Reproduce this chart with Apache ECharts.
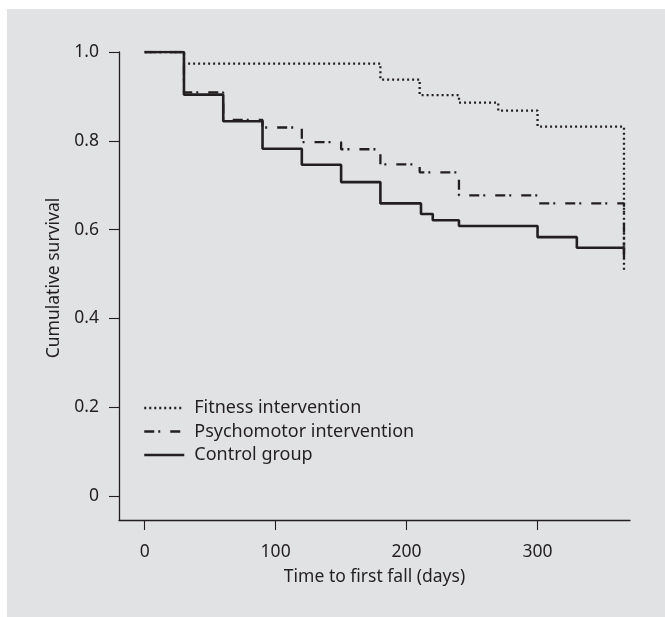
<!DOCTYPE html>
<html>
<head>
<meta charset="utf-8">
<script src="https://cdn.jsdelivr.net/npm/echarts@6/dist/echarts.min.js"></script>
<style>
  html, body { margin: 0; padding: 0; background: #ffffff; }
  #panel { position: absolute; left: 7px; top: 9px; width: 658px; height: 608px; background: #e1e2e4; }
  #chart { position: absolute; left: 0; top: 0; width: 665px; height: 617px; }
</style>
</head>
<body>
<div id="panel"></div>
<div id="chart"></div>
<script>
// ---- data ----
var seriesNames = ['Fitness intervention', 'Psychomotor intervention', 'Control group'];
var fitnessDays   = [0, 30, 180, 210, 240, 270, 300, 366, 366];
var fitnessSurv   = [1.0, 0.974, 0.938, 0.903, 0.886, 0.868, 0.832, 0.832, 0.509];
var psychoDays    = [0, 30, 60, 90, 120, 150, 180, 210, 240, 300, 366, 366];
var psychoSurv    = [1.0, 0.909, 0.847, 0.830, 0.797, 0.781, 0.747, 0.729, 0.677, 0.659, 0.659, 0.535];
var controlDays   = [0, 30, 60, 90, 120, 150, 180, 211, 220, 240, 300, 330, 366];
var controlSurv   = [1.0, 0.904, 0.844, 0.782, 0.746, 0.707, 0.659, 0.635, 0.621, 0.608, 0.583, 0.559, 0.559];
var xTicks = [0, 100, 200, 300];
var yTicks = [0, 0.2, 0.4, 0.6, 0.8, 1.0];
var yTickLabels = ['0', '0.2', '0.4', '0.6', '0.8', '1.0'];

function pairs(xs, ys) { return xs.map(function (x, i) { return [x, ys[i]]; }); }

var ink = '#231f20';
var font = 'Noto Sans';
var fs = 17.5;
var chart = echarts.init(document.getElementById('chart'), null, { renderer: 'canvas' });
chart.setOption({
  backgroundColor: 'transparent',
  animation: false,
  textStyle: { fontFamily: font, color: ink },
  grid: { left: 119, right: 35, top: 52, bottom: 97 },
  legend: {
    orient: 'vertical',
    left: 143, top: 399, padding: 0,
    itemWidth: 40, itemHeight: 12, itemGap: 5.5,
    itemStyle: { opacity: 0 },
    lineStyle: { width: 2.5 },
    textStyle: { fontFamily: font, fontSize: 18, color: ink, padding: [0, 0, 0, 5] },
    data: seriesNames
  },
  xAxis: {
    type: 'value', min: -19.6, max: 370.6,
    name: 'Time to first fall (days)', nameLocation: 'middle', nameGap: 48,
    nameTextStyle: { fontFamily: font, fontSize: fs, color: ink },
    axisLine: { onZero: false, lineStyle: { color: ink, width: 1.3 } },
    axisTick: { show: true, length: 10, lineStyle: { color: ink, width: 1.1 }, customValues: xTicks },
    axisLabel: { customValues: xTicks, margin: 23, fontSize: fs, color: ink, fontFamily: font },
    splitLine: { show: false }
  },
  yAxis: {
    type: 'value', min: -0.054, max: 1.0,
    name: 'Cumulative survival', nameLocation: 'middle', nameGap: 55,
    nameTextStyle: { fontFamily: font, fontSize: fs, color: ink, padding: [0, 0, 0, 16] },
    axisLine: { onZero: false, lineStyle: { color: ink, width: 1.3 } },
    axisTick: { show: true, length: 10, lineStyle: { color: ink, width: 1.1 }, customValues: yTicks },
    axisLabel: {
      customValues: yTicks, margin: 20, fontSize: fs, color: ink, fontFamily: font,
      formatter: function (v) { var i = yTicks.indexOf(v); return i >= 0 ? yTickLabels[i] : String(v); }
    },
    splitLine: { show: false }
  },
  series: [
    {
      name: seriesNames[0], type: 'line', step: 'end', symbol: 'none',
      lineStyle: { color: ink, width: 2.3, type: [2, 3], cap: 'butt' },
      itemStyle: { color: ink },
      data: pairs(fitnessDays, fitnessSurv), z: 2
    },
    {
      name: seriesNames[1], type: 'line', step: 'end', symbol: 'none',
      lineStyle: { color: ink, width: 2.3, type: [10, 4, 2, 10], cap: 'butt' },
      itemStyle: { color: ink },
      data: pairs(psychoDays, psychoSurv), z: 3
    },
    {
      name: seriesNames[2], type: 'line', step: 'end', symbol: 'none',
      lineStyle: { color: ink, width: 2.6 },
      itemStyle: { color: ink },
      data: pairs(controlDays, controlSurv), z: 4
    },
    {
      name: 'censor', type: 'scatter', symbol: 'rect', symbolSize: [2.5, 11],
      itemStyle: { color: ink }, silent: true,
      data: [[controlDays[controlDays.length - 1], controlSurv[controlSurv.length - 1]]], z: 5
    }
  ]
});
</script>
</body>
</html>
